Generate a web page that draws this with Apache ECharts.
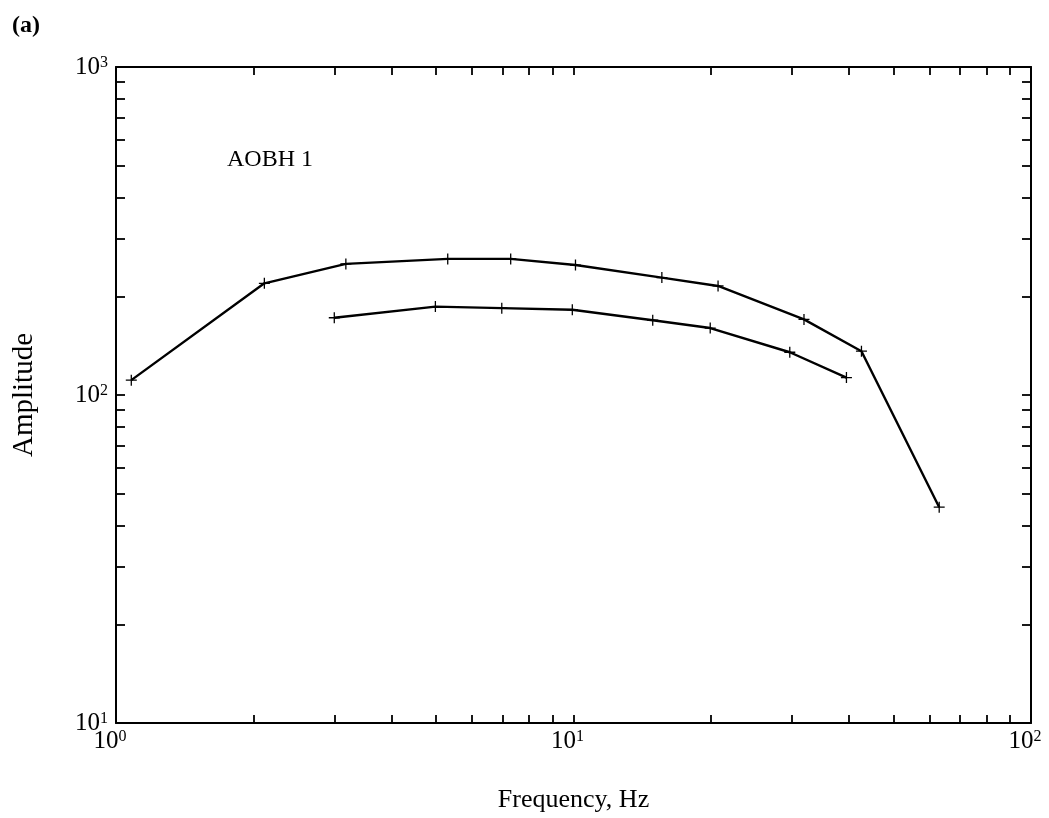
<!DOCTYPE html>
<html>
<head>
<meta charset="utf-8">
<script src="https://cdn.jsdelivr.net/npm/echarts@6/dist/echarts.min.js"></script>
<style>
html, body { margin: 0; padding: 0; background: #fff; }
#chart { width: 1049px; height: 818px; }
</style>
</head>
<body>
<div id="chart"></div>
<script>
// upper curve
var freqUpper = [1.08, 2.11, 3.18, 5.31, 7.29, 10.1, 15.6, 20.7, 31.9, 42.6, 63.0];
var ampUpper  = [111, 219, 251, 260, 260, 249, 228, 215, 170, 136, 45.5];
// lower curve
var freqLower = [3.0, 4.99, 6.97, 9.94, 14.9, 19.9, 29.7, 39.5];
var ampLower  = [172, 186, 184, 182, 169, 160, 135, 113];

var xTicks = [1, 2, 3, 4, 5, 6, 7, 8, 9, 10, 20, 30, 40, 50, 60, 70, 80, 90, 100];
var yTicks = [10, 20, 30, 40, 50, 60, 70, 80, 90, 100, 200, 300, 400, 500, 600, 700, 800, 900, 1000];
var xLabels = [1, 10, 100];
var yLabels = [10, 100, 1000];

var FONT = '"Liberation Serif", "DejaVu Serif", serif';
var plusSym = 'path://M-0.7,-6H0.7V-0.7H6V0.7H0.7V6H-0.7V0.7H-6V-0.7H-0.7Z';

function pairs(xs, ys) {
    return xs.map(function(x, i){ return [x, ys[i]]; });
}

function powLabel(v) {
    var e = Math.round(Math.log(v) / Math.LN10);
    return '{b|10}{s|' + e + '}';
}

var labelRich = {
    b: { fontFamily: FONT, fontSize: 25, color: '#000' },
    s: { fontFamily: FONT, fontSize: 16, color: '#000', verticalAlign: 'top', padding: [0, 0, 8, 0] }
};

var axisLine = { show: true, lineStyle: { color: '#000', width: 2 } };
var tickStyle = { color: '#000', width: 1.8 };

var chart = echarts.init(document.getElementById('chart'));

var option = {
    backgroundColor: '#fff',
    animation: false,
    grid: { left: 116, right: 18, top: 67, bottom: 95 },
    xAxis: [{
        type: 'log',
        logBase: 10,
        min: 1,
        max: 100,
        position: 'bottom',
        axisLine: axisLine,
        axisTick: { show: true, inside: true, length: 8, customValues: xTicks, lineStyle: tickStyle },
        axisLabel: { show: true, customValues: xLabels, margin: 6, padding: [0, 12, 0, 0], formatter: powLabel, rich: labelRich },
        splitLine: { show: false },
        name: 'Frequency, Hz',
        nameLocation: 'middle',
        nameGap: 64,
        nameTextStyle: { fontFamily: FONT, fontSize: 26, color: '#000' }
    }, {
        type: 'log',
        logBase: 10,
        min: 1,
        max: 100,
        position: 'top',
        axisLine: axisLine,
        axisTick: { show: true, inside: true, length: 8, customValues: xTicks, lineStyle: tickStyle },
        axisLabel: { show: false },
        splitLine: { show: false }
    }],
    yAxis: [{
        type: 'log',
        logBase: 10,
        min: 10,
        max: 1000,
        position: 'left',
        axisLine: axisLine,
        axisTick: { show: true, inside: true, length: 9, customValues: yTicks, lineStyle: tickStyle },
        axisLabel: { show: true, customValues: yLabels, margin: 8, formatter: powLabel, rich: labelRich },
        splitLine: { show: false },
        name: 'Amplitude',
        nameLocation: 'middle',
        nameGap: 77,
        nameRotate: 90,
        nameTextStyle: { fontFamily: FONT, fontSize: 29, color: '#000' }
    }, {
        type: 'log',
        logBase: 10,
        min: 10,
        max: 1000,
        position: 'right',
        axisLine: axisLine,
        axisTick: { show: true, inside: true, length: 9, customValues: yTicks, lineStyle: tickStyle },
        axisLabel: { show: false },
        splitLine: { show: false }
    }],
    graphic: [{
        type: 'text',
        left: 12,
        top: 14,
        style: { text: '(a)', font: 'bold 24px ' + FONT, fill: '#000' }
    }, {
        type: 'text',
        left: 227,
        top: 148,
        style: { text: 'AOBH 1', font: '24px ' + FONT, fill: '#000' }
    }],
    series: [{
        type: 'line',
        xAxisIndex: 0,
        yAxisIndex: 0,
        data: pairs(freqUpper, ampUpper),
        symbol: plusSym,
        symbolSize: 11,
        showSymbol: true,
        itemStyle: { color: '#000' },
        lineStyle: { color: '#000', width: 2.4 }
    }, {
        type: 'line',
        xAxisIndex: 0,
        yAxisIndex: 0,
        data: pairs(freqLower, ampLower),
        symbol: plusSym,
        symbolSize: 11,
        showSymbol: true,
        itemStyle: { color: '#000' },
        lineStyle: { color: '#000', width: 2.4 }
    }]
};

chart.setOption(option);
</script>
</body>
</html>
